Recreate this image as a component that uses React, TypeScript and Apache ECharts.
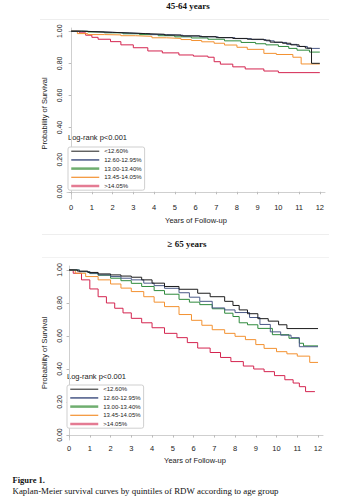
import React, { useEffect, useRef } from "react";
import * as echarts from "echarts";

// ---------- labels ----------
const groupNames = ["<12.60%", "12.60-12.95%", "13.00-13.40%", "13.45-14.05%", ">14.05%"];
const groupColors = ["#1c1c1c", "#4b5a88", "#2e8a3c", "#f39130", "#d4244f"];
const xTicks = [0, 1, 2, 3, 4, 5, 6, 7, 8, 9, 10, 11, 12];
const yTicks = [0, 0.2, 0.4, 0.6, 0.8, 1.0];

// ---------- 45-64 years ----------
const a_t0 = [0, 0.5, 1.2, 2, 2.8, 3.6, 4.5, 5.3, 6.2, 7, 7.8, 8.5, 9.3, 9.6, 10.2, 10.6, 11, 11.3, 11.6, 12];
const a_s0 = [1, 0.997, 0.993, 0.989, 0.985, 0.981, 0.976, 0.971, 0.966, 0.96, 0.955, 0.95, 0.944, 0.932, 0.925, 0.915, 0.905, 0.895, 0.8, 0.8];
const a_t1 = [0, 0.6, 1.4, 2.2, 3, 3.8, 4.6, 5.4, 6.3, 7.1, 7.9, 8.7, 9.4, 9.8, 10.4, 10.9, 11.4, 12];
const a_s1 = [1, 0.996, 0.992, 0.988, 0.984, 0.979, 0.975, 0.97, 0.965, 0.96, 0.954, 0.948, 0.94, 0.93, 0.918, 0.905, 0.893, 0.893];
const a_t2 = [0, 0.8, 1.6, 2.5, 3.3, 4.2, 5, 5.8, 6.6, 7.4, 8.2, 8.9, 9.4, 10, 10.5, 10.9, 11.5, 12];
const a_s2 = [1, 0.995, 0.99, 0.984, 0.979, 0.972, 0.965, 0.958, 0.95, 0.94, 0.93, 0.922, 0.915, 0.905, 0.893, 0.882, 0.87, 0.87];
const a_t3 = [0, 0.3, 0.8, 1.6, 2.4, 3.1, 3.9, 4.6, 5.3, 5.8, 6.3, 6.9, 7.4, 8, 8.5, 9.3, 9.9, 10.7, 11.1, 12];
const a_s3 = [1, 0.985, 0.979, 0.977, 0.972, 0.968, 0.959, 0.955, 0.948, 0.942, 0.934, 0.925, 0.914, 0.9, 0.887, 0.862, 0.855, 0.838, 0.796, 0.796];
const a_t4 = [0, 0.4, 0.7, 1.0, 1.3, 1.9, 2.4, 3.0, 3.7, 4.4, 5.2, 5.9, 6.6, 6.9, 7.2, 7.8, 8.4, 9.3, 10.0, 12];
const a_s4 = [1, 0.99, 0.975, 0.962, 0.95, 0.935, 0.915, 0.897, 0.877, 0.865, 0.852, 0.845, 0.838, 0.81, 0.795, 0.778, 0.765, 0.752, 0.742, 0.742];

// ---------- >= 65 years ----------
const b_t0 = [0, 0.4, 0.9, 1.4, 2, 2.5, 3, 3.5, 4, 4.6, 5.3, 6.2, 6.8, 7.5, 7.9, 8.2, 8.6, 9.1, 9.6, 10.1, 10.5, 12];
const b_s0 = [1, 0.993, 0.985, 0.976, 0.97, 0.963, 0.956, 0.94, 0.92, 0.9, 0.883, 0.859, 0.838, 0.81, 0.785, 0.758, 0.735, 0.705, 0.69, 0.668, 0.645, 0.645];
const b_t1 = [0, 0.5, 1, 1.4, 2, 2.5, 3, 3.6, 4.1, 4.6, 5.3, 5.8, 6.3, 6.9, 7.5, 8, 8.7, 9.2, 9.7, 10.2, 10.7, 11.1, 12];
const b_s1 = [1, 0.99, 0.98, 0.97, 0.96, 0.95, 0.94, 0.92, 0.905, 0.889, 0.862, 0.835, 0.81, 0.77, 0.758, 0.742, 0.712, 0.67, 0.625, 0.605, 0.59, 0.535, 0.535];
const b_t2 = [0, 0.5, 1, 1.4, 2, 2.5, 3, 3.5, 4.1, 4.6, 5.3, 5.8, 6.3, 6.9, 7.5, 7.9, 8.2, 8.6, 9.1, 9.8, 10.6, 11.1, 11.3, 12];
const b_s2 = [1, 0.99, 0.978, 0.968, 0.95, 0.935, 0.919, 0.9, 0.875, 0.853, 0.822, 0.805, 0.79, 0.765, 0.738, 0.718, 0.68, 0.668, 0.646, 0.608, 0.586, 0.556, 0.54, 0.54];
const b_t3 = [0, 0.3, 0.8, 1.4, 2, 2.5, 3, 3.6, 4.1, 4.6, 5.3, 5.9, 6.4, 6.9, 7.5, 8, 8.5, 9, 9.4, 10, 10.5, 11, 11.6, 12];
const b_s3 = [1, 0.98, 0.96, 0.94, 0.915, 0.89, 0.869, 0.838, 0.805, 0.778, 0.73, 0.695, 0.665, 0.638, 0.616, 0.598, 0.578, 0.548, 0.525, 0.505, 0.492, 0.478, 0.44, 0.44];
const b_t4 = [0, 0.2, 0.6, 1, 1.4, 1.8, 2.2, 2.6, 3, 3.5, 4, 4.6, 5.2, 5.7, 6.2, 6.8, 7.3, 7.8, 8.4, 8.9, 9.4, 9.9, 10.4, 10.8, 11.1, 11.4, 11.85];
const b_s4 = [1, 0.98, 0.94, 0.885, 0.838, 0.8, 0.768, 0.74, 0.707, 0.68, 0.65, 0.616, 0.59, 0.56, 0.527, 0.5, 0.47, 0.445, 0.418, 0.4, 0.384, 0.36, 0.335, 0.315, 0.293, 0.263, 0.263];

const topTimes = [a_t0, a_t1, a_t2, a_t3, a_t4];
const topSurv = [a_s0, a_s1, a_s2, a_s3, a_s4];
const botTimes = [b_t0, b_t1, b_t2, b_t3, b_t4];
const botSurv = [b_s0, b_s1, b_s2, b_s3, b_s4];

const FONT = "Liberation Sans";
const SERIF = "Liberation Serif";

function makeX(idx: number, min: number, max: number, nameGap: number) {
  return {
    type: "value",
    gridIndex: idx,
    min,
    max,
    name: "Years of Follow-up",
    nameLocation: "middle",
    nameGap,
    nameTextStyle: { fontSize: 7.5, color: "#222", fontFamily: FONT },
    axisLine: { show: true, lineStyle: { color: "#cfcfcf", width: 1 } },
    axisTick: { show: true, length: 2.5, lineStyle: { color: "#bbb" }, customValues: xTicks },
    axisLabel: { fontSize: 7.5, color: "#222", margin: 4, customValues: xTicks, fontFamily: FONT },
    splitLine: { show: false },
  };
}
function makeY(idx: number, min: number, max: number) {
  return {
    type: "value",
    gridIndex: idx,
    min,
    max,
    name: "Probability of Survival",
    nameLocation: "middle",
    nameGap: 17,
    nameTextStyle: { fontSize: 7.5, color: "#222", fontFamily: FONT },
    axisLine: { show: true, lineStyle: { color: "#cfcfcf", width: 1 } },
    axisTick: { show: true, length: 2.5, lineStyle: { color: "#bbb" }, customValues: yTicks },
    axisLabel: {
      fontSize: 7,
      color: "#222",
      rotate: 90,
      margin: 4,
      customValues: yTicks,
      fontFamily: FONT,
      formatter: (v: number) => v.toFixed(2),
    },
    splitLine: { show: false },
  };
}

const legendItemStyles = [
  { width: 1, color: "#1c1c1c" },
  { width: 1.8, color: "#66739a" },
  { width: 2.5, color: "#6fae6f" },
  { width: 1.2, color: "#f39130" },
  { width: 2.5, color: "#e47b93" },
];

function makeLegend(left: number, top: number) {
  return {
    orient: "vertical",
    left,
    top,
    selectedMode: false,
    itemWidth: 28,
    itemHeight: 8,
    itemGap: 2.3,
    padding: [1, 3, 1, 2],
    borderColor: "#cfcfcf",
    borderWidth: 1,
    borderRadius: 2,
    backgroundColor: "#fff",
    textStyle: { fontSize: 6, color: "#222", fontFamily: FONT },
    data: groupNames.map((n, i) => ({
      name: n,
      lineStyle: legendItemStyles[i],
      itemStyle: { color: "rgba(0,0,0,0)", borderWidth: 0, opacity: 0 },
    })),
  };
}

export default function App() {
  const ref = useRef<HTMLDivElement>(null);
  useEffect(() => {
    if (!ref.current) return;
    const chart = echarts.init(ref.current, undefined, { renderer: "svg" });
    const series: any[] = [];
    groupNames.forEach((n, i) => {
      series.push({
        name: n,
        type: "line",
        step: "end",
        xAxisIndex: 0,
        yAxisIndex: 0,
        symbol: "none",
        lineStyle: { width: 1, color: groupColors[i] },
        itemStyle: { color: groupColors[i] },
        data: topTimes[i].map((t, k) => [t, topSurv[i][k]]),
        z: 10 - i,
      });
    });
    groupNames.forEach((n, i) => {
      series.push({
        name: n,
        type: "line",
        step: "end",
        xAxisIndex: 1,
        yAxisIndex: 1,
        symbol: "none",
        lineStyle: { width: 1, color: groupColors[i] },
        itemStyle: { color: groupColors[i] },
        data: botTimes[i].map((t, k) => [t, botSurv[i][k]]),
        z: 10 - i,
      });
    });
    chart.setOption({
      animation: false,
      backgroundColor: "#fff",
      textStyle: { fontFamily: FONT },
      grid: [
        { left: 67, top: 28, width: 258, height: 171 },
        { left: 67, top: 266, width: 256, height: 174 },
      ],
      xAxis: [makeX(0, -0.2, 12.25, 17), makeX(1, -0.1, 12.24, 16)],
      yAxis: [makeY(0, -0.045, 1.02), makeY(1, -0.03, 1.024)],
      legend: [makeLegend(68, 147), makeLegend(67, 385)],
      series,
      graphic: [
        { type: "line", shape: { x1: 40, y1: 19.5, x2: 329, y2: 19.5 }, style: { stroke: "#eeeeee", lineWidth: 1 } },
        { type: "line", shape: { x1: 42, y1: 234.5, x2: 329, y2: 234.5 }, style: { stroke: "#eeeeee", lineWidth: 1 } },
        { type: "line", shape: { x1: 42, y1: 257.5, x2: 329, y2: 257.5 }, style: { stroke: "#f2f2f2", lineWidth: 1 } },
        {
          type: "text", x: 188, y: 6,
          style: { text: "45-64 years", fontFamily: SERIF, fontWeight: "bold", fontSize: 9, fill: "#111", align: "center", verticalAlign: "middle" },
        },
        {
          type: "text", x: 187, y: 244,
          style: { text: "≥ 65 years", fontFamily: SERIF, fontWeight: "bold", fontSize: 9, fill: "#111", align: "center", verticalAlign: "middle" },
        },
        {
          type: "text", x: 68, y: 137,
          style: { text: "Log-rank p<0.001", fontFamily: FONT, fontSize: 7.5, fill: "#222", align: "left", verticalAlign: "middle" },
        },
        {
          type: "text", x: 67, y: 376,
          style: { text: "Log-rank p<0.001", fontFamily: FONT, fontSize: 7.5, fill: "#222", align: "left", verticalAlign: "middle" },
        },
        {
          type: "text", x: 12.5, y: 480,
          style: { text: "Figure 1.", fontFamily: SERIF, fontWeight: "bold", fontSize: 8.5, fill: "#111", align: "left", verticalAlign: "middle" },
        },
        {
          type: "text", x: 12.5, y: 491,
          style: { text: "Kaplan-Meier survival curves by quintiles of RDW according to age group", fontFamily: SERIF, fontSize: 8.9, fill: "#111", align: "left", verticalAlign: "middle" },
        },
      ],
    });
    return () => chart.dispose();
  }, []);
  return (
    <div
      ref={ref}
      style={{ position: "fixed", left: 0, top: 0, width: 357, height: 500, background: "#fff" }}
    />
  );
}
